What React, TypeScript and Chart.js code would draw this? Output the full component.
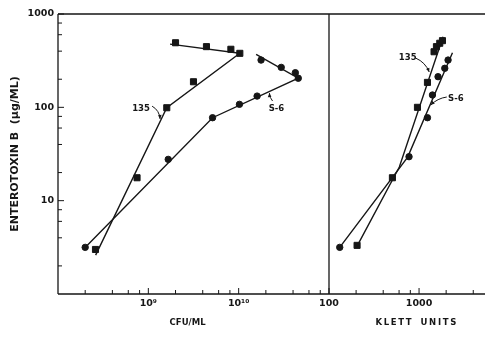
import React, { useEffect, useRef } from "react";
import { Chart, registerables } from "chart.js";

Chart.register(...registerables);

const INK = "#161616";
const FONT = "'DejaVu Sans', 'Liberation Sans', sans-serif";

// ---- axes ----
const toxinTicks = [2, 4, 6, 8, 10, 20, 40, 60, 80, 100, 200, 400, 600, 800, 1000];
const toxinMajor = [10, 100, 1000];
const toxinMajorLabels = ["10", "100", "1000"];

const cfuTicks = [2e8, 4e8, 6e8, 8e8, 1e9, 2e9, 4e9, 6e9, 8e9, 1e10, 2e10, 4e10, 6e10, 8e10];
const cfuMajor = [1e9, 1e10];
const cfuMajorLabels = ["10⁹", "10¹⁰"];

const klettTicks = [100, 200, 400, 600, 800, 1000, 2000, 4000];
const klettMajor = [100, 1000];
const klettMajorLabels = ["100", "1000"];

// ---- strain 135 vs CFU/ML ----
const cfu135 = [2.6e8, 7.5e8, 1.6e9, 3.16e9, 1.03e10, 8.2e9, 4.4e9, 2.0e9];
const toxin135Cfu = [3.0, 17.6, 99, 188, 379, 419, 447, 492];
// ---- strain S-6 vs CFU/ML ----
const cfuS6 = [2.0e8, 1.66e9, 5.14e9, 1.02e10, 1.6e10, 4.57e10, 4.24e10, 2.96e10, 1.77e10];
const toxinS6Cfu = [3.16, 27.7, 77.4, 107.7, 132, 205, 235, 268, 321];
// fitted lines (CFU panel)
const fit135CfuX = [2.61e8, 1.6e9, 1.03e10, 1.74e9];
const fit135CfuY = [2.61, 99, 379, 476];
const fitS6CfuX = [2.01e8, 5.14e9, 4.57e10, 1.56e10];
const fitS6CfuY = [3.16, 77.4, 205, 370];

// ---- Klett panel ----
const klett135 = [205, 506, 960, 1240, 1468, 1560, 1698, 1820];
const toxin135Klett = [3.32, 17.6, 100, 185, 394, 447, 486, 518];
const klettS6 = [131.6, 774, 1240, 1409, 1625, 1931, 2100];
const toxinS6Klett = [3.16, 29.6, 77.4, 135.5, 213, 262, 321];
const fit135KlettX = [205, 604, 1848];
const fit135KlettY = [3.26, 22.9, 571];
const fitS6KlettX = [131.6, 748, 2350];
const fitS6KlettY = [3.16, 29.3, 384];

// ---- curve labels (data coordinates) ----
const cfuNotes = [
  { text: "135", tx: 8.3e8, ty: 96, x0: 1.1e9, y0: 103, x1: 1.35e9, y1: 75, bend: 4 },
  { text: "S-6", tx: 2.62e10, ty: 96, x0: 2.37e10, y0: 117, x1: 2.19e10, y1: 142, bend: 1.5 },
];
const klettNotes = [
  { text: "135", tx: 748, ty: 337, x0: 918, y0: 337, x1: 1297, y1: 239, bend: 4 },
  { text: "S-6", tx: 2560, ty: 123, x0: 2032, y0: 129, x1: 1349, y1: 106, bend: -3 },
];

function zip(xs: number[], ys: number[]) {
  return xs.map((x, i) => ({ x, y: ys[i] }));
}
function nearly(a: number, b: number) {
  return Math.abs(a - b) <= Math.abs(b) * 1e-6;
}
function labelFor(v: number, majors: number[], labels: string[]) {
  const i = majors.findIndex((m) => nearly(v, m));
  return i >= 0 ? labels[i] : "";
}

const framePlugin = {
  id: "frame",
  afterDatasetsDraw(chart: any, _a: any, opts: any) {
    const { ctx, chartArea: a, scales } = chart;
    ctx.save();
    ctx.strokeStyle = INK;
    ctx.fillStyle = INK;
    ctx.lineWidth = 1.3;
    ctx.beginPath();
    ctx.moveTo(a.left, a.top);
    ctx.lineTo(a.right, a.top);
    ctx.moveTo(a.left, a.bottom);
    ctx.lineTo(a.right, a.bottom);
    if (opts.leftAxis) {
      ctx.moveTo(a.left, a.top);
      ctx.lineTo(a.left, a.bottom);
    }
    if (opts.divider) {
      ctx.moveTo(a.right, a.top);
      ctx.lineTo(a.right, a.bottom);
    }
    ctx.stroke();

    ctx.lineWidth = 1;
    ctx.beginPath();
    for (const t of scales.x.ticks) {
      const px = scales.x.getPixelForValue(t.value);
      const len = t.label ? 6 : 4;
      ctx.moveTo(px, a.bottom);
      ctx.lineTo(px, a.bottom - len);
    }
    if (opts.leftAxis) {
      for (const t of scales.y.ticks) {
        const py = scales.y.getPixelForValue(t.value);
        const len = t.label ? 6 : 4;
        ctx.moveTo(a.left, py);
        ctx.lineTo(a.left + len, py);
      }
    }
    ctx.stroke();

    ctx.font = `bold 8.5px ${FONT}`;
    ctx.textAlign = "center";
    ctx.textBaseline = "middle";
    ctx.lineWidth = 1;
    for (const n of opts.notes) {
      const tx = scales.x.getPixelForValue(n.tx);
      const ty = scales.y.getPixelForValue(n.ty);
      ctx.fillText(n.text, tx, ty);
      const x0 = scales.x.getPixelForValue(n.x0);
      const y0 = scales.y.getPixelForValue(n.y0);
      const x1 = scales.x.getPixelForValue(n.x1);
      const y1 = scales.y.getPixelForValue(n.y1);
      const dx = x1 - x0, dy = y1 - y0, L = Math.hypot(dx, dy) || 1;
      const cx = (x0 + x1) / 2 + (n.bend * dy) / L;
      const cy = (y0 + y1) / 2 - (n.bend * dx) / L;
      ctx.beginPath();
      ctx.moveTo(x0, y0);
      ctx.quadraticCurveTo(cx, cy, x1, y1);
      ctx.stroke();
      const ang = Math.atan2(y1 - cy, x1 - cx);
      const h = 4, w = 1.8;
      ctx.beginPath();
      ctx.moveTo(x1, y1);
      ctx.lineTo(x1 - h * Math.cos(ang) + w * Math.sin(ang), y1 - h * Math.sin(ang) - w * Math.cos(ang));
      ctx.lineTo(x1 - h * Math.cos(ang) - w * Math.sin(ang), y1 - h * Math.sin(ang) + w * Math.cos(ang));
      ctx.closePath();
      ctx.fill();
    }
    ctx.restore();
  },
};

function lineDs(xs: number[], ys: number[]) {
  return {
    data: zip(xs, ys),
    showLine: true,
    borderColor: INK,
    borderWidth: 1.4,
    pointRadius: 0,
    fill: false,
    tension: 0,
  };
}
function pointDs(xs: number[], ys: number[], style: string) {
  return {
    data: zip(xs, ys),
    showLine: false,
    pointStyle: style,
    pointRadius: style === "rect" ? 4.3 : 3.2,
    pointBackgroundColor: INK,
    pointBorderColor: INK,
    pointBorderWidth: 1,
  };
}

function xScale(min: number, max: number, ticks: number[], majors: number[], labels: string[], title: string) {
  return {
    type: "logarithmic",
    min,
    max,
    grid: { display: false, drawTicks: false },
    border: { display: false },
    afterBuildTicks: (s: any) => {
      s.ticks = ticks.map((v) => ({ value: v }));
    },
    afterFit: (s: any) => {
      s.height = 47;
    },
    ticks: {
      autoSkip: false,
      maxRotation: 0,
      minRotation: 0,
      padding: 4,
      color: INK,
      font: { family: FONT, size: 9.5, weight: "bold" },
      callback: (v: any) => labelFor(Number(v), majors, labels),
    },
    title: {
      display: true,
      text: title,
      color: INK,
      font: { family: FONT, size: 8.5, weight: "bold" },
      padding: { top: 0, bottom: 12.9 },
    },
  };
}

function leftConfig(): any {
  return {
    type: "scatter",
    data: {
      datasets: [
        lineDs(fit135CfuX, fit135CfuY),
        lineDs(fitS6CfuX, fitS6CfuY),
        pointDs(cfu135, toxin135Cfu, "rect"),
        pointDs(cfuS6, toxinS6Cfu, "circle"),
      ],
    },
    options: {
      animation: false,
      responsive: false,
      events: [],
      layout: { autoPadding: false, padding: { top: 14, right: 1, left: 0, bottom: 0 } },
      plugins: {
        legend: { display: false },
        tooltip: { enabled: false },
        frame: { leftAxis: true, divider: true, notes: cfuNotes },
      },
      scales: {
        x: xScale(1e8, 1e11, cfuTicks, cfuMajor, cfuMajorLabels, "CFU/ML    "),
        y: {
          type: "logarithmic",
          min: 1,
          max: 1000,
          grid: { display: false, drawTicks: false },
          border: { display: false },
          afterBuildTicks: (s: any) => {
            s.ticks = toxinTicks.map((v) => ({ value: v }));
          },
          afterFit: (s: any) => {
            s.width = 58;
          },
          ticks: {
            autoSkip: false,
            padding: 4,
            color: INK,
            font: { family: FONT, size: 9.5, weight: "bold" },
            callback: (v: any) => labelFor(Number(v), toxinMajor, toxinMajorLabels),
          },
          title: {
            display: true,
            text: "ENTEROTOXIN B  (µg/ML)",
            color: INK,
            font: { family: FONT, size: 11, weight: "bold" },
            padding: { top: 9, bottom: 0 },
          },
        },
      },
    },
    plugins: [framePlugin],
  };
}

function rightConfig(): any {
  return {
    type: "scatter",
    data: {
      datasets: [
        lineDs(fit135KlettX, fit135KlettY),
        lineDs(fitS6KlettX, fitS6KlettY),
        pointDs(klett135, toxin135Klett, "rect"),
        pointDs(klettS6, toxinS6Klett, "circle"),
      ],
    },
    options: {
      animation: false,
      responsive: false,
      events: [],
      layout: { autoPadding: false, padding: { top: 14, right: 0, left: 29, bottom: 0 } },
      plugins: {
        legend: { display: false },
        tooltip: { enabled: false },
        frame: { leftAxis: false, divider: false, notes: klettNotes },
      },
      scales: {
        x: xScale(100, 5400, klettTicks, klettMajor, klettMajorLabels, "      K\u2009L\u2009E\u2009T\u2009T   U\u2009N\u2009I\u2009T\u2009S"),
        y: { type: "logarithmic", min: 1, max: 1000, display: false },
      },
    },
    plugins: [framePlugin],
  };
}

export default function App() {
  const leftRef = useRef<HTMLCanvasElement | null>(null);
  const rightRef = useRef<HTMLCanvasElement | null>(null);

  useEffect(() => {
    const c1 = new Chart(leftRef.current as HTMLCanvasElement, leftConfig());
    const c2 = new Chart(rightRef.current as HTMLCanvasElement, rightConfig());
    return () => {
      c1.destroy();
      c2.destroy();
    };
  }, []);

  return (
    <div style={{ position: "absolute", left: 0, top: 0, width: 485, height: 341, background: "#fff", overflow: "hidden" }}>
      <canvas ref={leftRef} width={330} height={341} style={{ position: "absolute", left: 0, top: 0, width: 330, height: 341 }} />
      <canvas ref={rightRef} width={185} height={341} style={{ position: "absolute", left: 300, top: 0, width: 185, height: 341 }} />
    </div>
  );
}
